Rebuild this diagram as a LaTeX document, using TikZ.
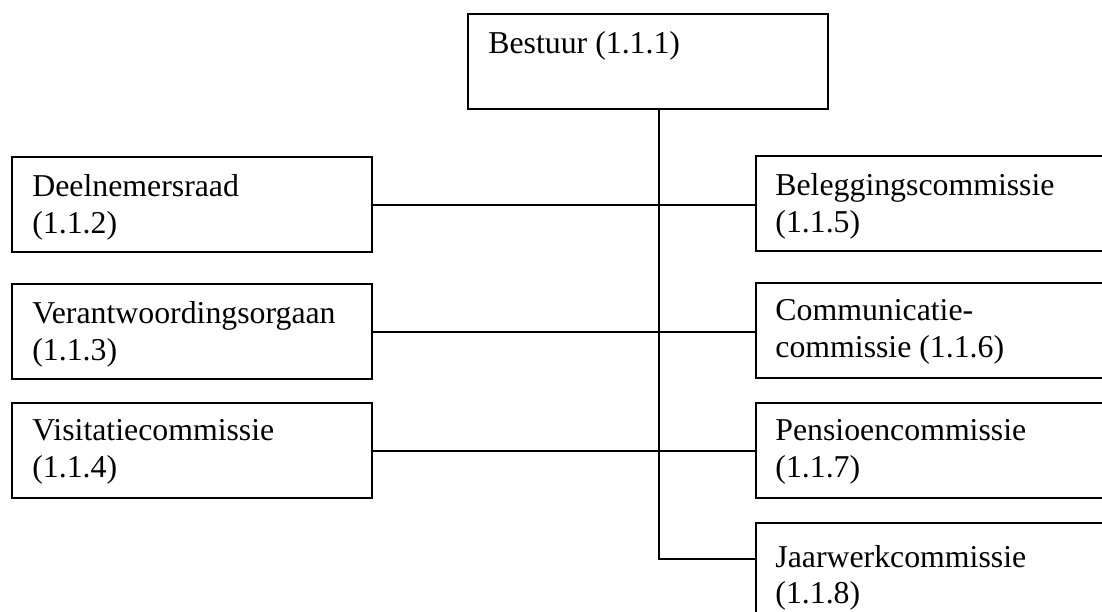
\documentclass[tikz,border=0pt]{standalone}
\usepackage{fontspec}
\setmainfont{Liberation Serif}
\begin{document}
\begin{tikzpicture}[x=0.5pt,y=-0.5pt,
  box/.style={draw, line width=1pt, rectangle, minimum width=180pt, minimum height=47.5pt, anchor=north west, inner sep=0pt},
  lbl/.style={anchor=base west, inner sep=0pt, font=\fontsize{15.9}{18}\selectfont},
  conn/.style={line width=1pt}]
\useasboundingbox (0,0) rectangle (1102,611);
\clip (0,0) rectangle (1102,611);
% boxes
\node[box] (bestuur) at (467,13) {};
\node[box] (deel) at (11,156) {};
\node[box] (verant) at (11,283) {};
\node[box] (visit) at (11,402) {};
\node[box] (beleg) at (755,155) {};
\node[box] (comm) at (755,282) {};
\node[box] (pens) at (755,402) {};
\node[box] (jaar) at (755,522) {};
% texts
\node[lbl] (t1) at ([shift={(21,40)}]bestuur.north west) {Bestuur (1.1.1)};
\node[lbl] (t2a) at ([shift={(21,40)}]deel.north west) {Deelnemersraad};
\node[lbl] (t2b) at ([shift={(21,77)}]deel.north west) {(1.1.2)};
\node[lbl] (t3a) at ([shift={(21,40)}]verant.north west) {Verantwoordingsorgaan};
\node[lbl] (t3b) at ([shift={(21,77)}]verant.north west) {(1.1.3)};
\node[lbl] (t4a) at ([shift={(21,38)}]visit.north west) {Visitatiecommissie};
\node[lbl] (t4b) at ([shift={(21,75)}]visit.north west) {(1.1.4)};
\node[lbl] (t5a) at ([shift={(20,40)}]beleg.north west) {Beleggingscommissie};
\node[lbl] (t5b) at ([shift={(20,77)}]beleg.north west) {(1.1.5)};
\node[lbl] (t6a) at ([shift={(20,38)}]comm.north west) {Communicatie-};
\node[lbl] (t6b) at ([shift={(20,75)}]comm.north west) {commissie (1.1.6)};
\node[lbl] (t7a) at ([shift={(20,38)}]pens.north west) {Pensioencommissie};
\node[lbl] (t7b) at ([shift={(20,75)}]pens.north west) {(1.1.7)};
\node[lbl] (t8a) at ([shift={(20,45)}]jaar.north west) {Jaarwerkcommissie};
\node[lbl] (t8b) at ([shift={(20,81)}]jaar.north west) {(1.1.8)};
% connectors
\coordinate (jt) at (659,559);
\draw[conn] (bestuur.south -| jt) -- (jt) -- (jaar.west |- jt);
\draw[conn] (deel.east) -- (beleg.west |- deel.east);
\draw[conn] (verant.east) -- (comm.west |- verant.east);
\draw[conn] (visit.east) -- (pens.west);
\end{tikzpicture}
\end{document}
